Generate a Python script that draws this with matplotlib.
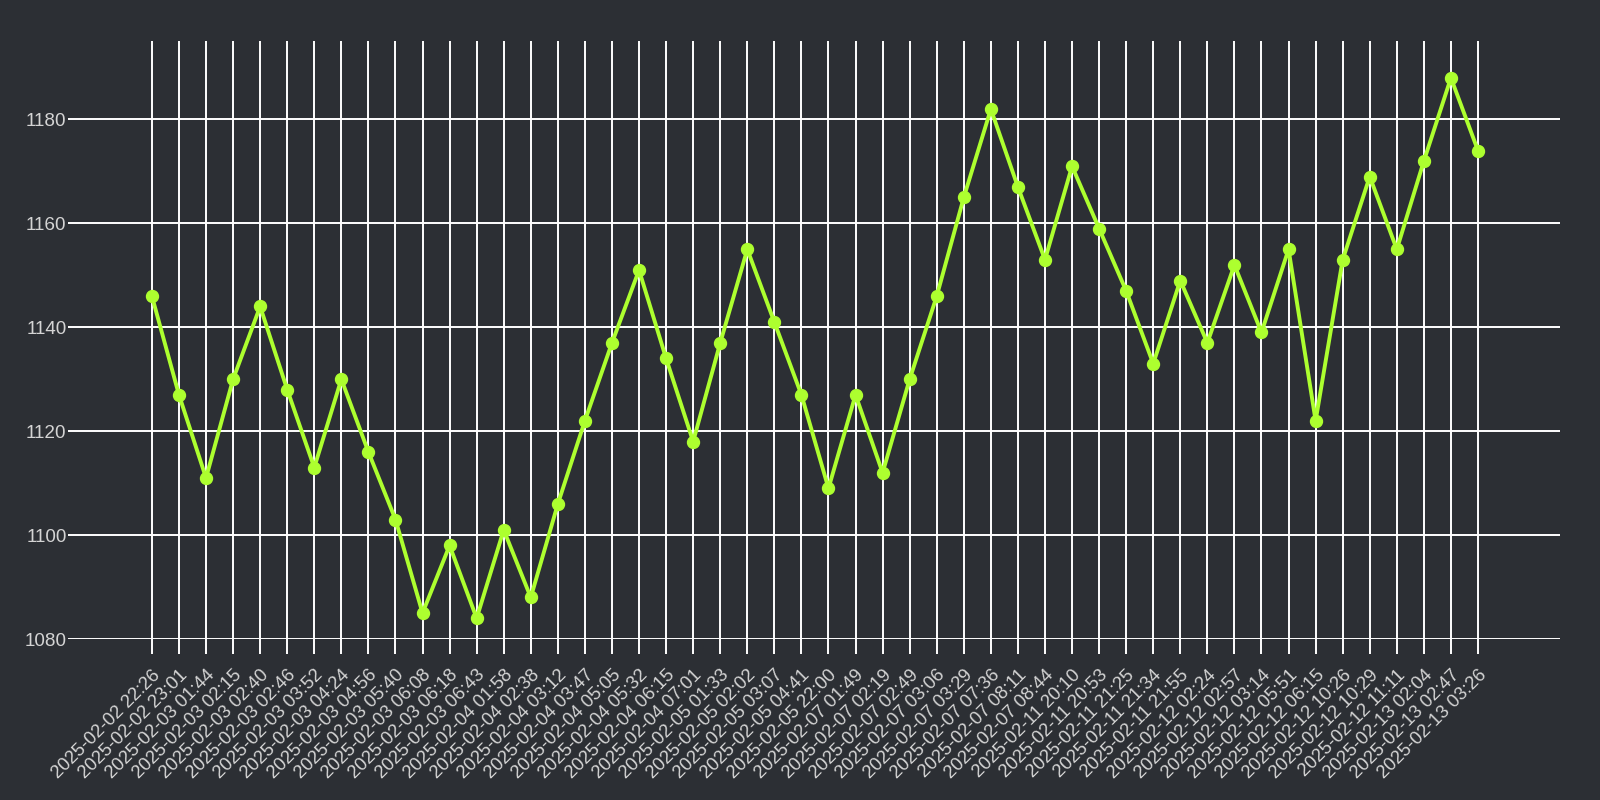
import matplotlib
matplotlib.use('Agg')
import matplotlib.pyplot as plt

# data
labels = [
    '2025-02-02 22:26', '2025-02-02 23:01', '2025-02-03 01:44', '2025-02-03 02:15',
    '2025-02-03 02:40', '2025-02-03 02:46', '2025-02-03 03:52', '2025-02-03 04:24',
    '2025-02-03 04:56', '2025-02-03 05:40', '2025-02-03 06:08', '2025-02-03 06:18',
    '2025-02-03 06:43', '2025-02-04 01:58', '2025-02-04 02:38', '2025-02-04 03:12',
    '2025-02-04 03:47', '2025-02-04 05:05', '2025-02-04 05:32', '2025-02-04 06:15',
    '2025-02-04 07:01', '2025-02-05 01:33', '2025-02-05 02:02', '2025-02-05 03:07',
    '2025-02-05 04:41', '2025-02-05 22:00', '2025-02-07 01:49', '2025-02-07 02:19',
    '2025-02-07 02:49', '2025-02-07 03:06', '2025-02-07 03:29', '2025-02-07 07:36',
    '2025-02-07 08:11', '2025-02-07 08:44', '2025-02-11 20:10', '2025-02-11 20:53',
    '2025-02-11 21:25', '2025-02-11 21:34', '2025-02-11 21:55', '2025-02-12 02:24',
    '2025-02-12 02:57', '2025-02-12 03:14', '2025-02-12 05:51', '2025-02-12 06:15',
    '2025-02-12 10:26', '2025-02-12 10:29', '2025-02-12 11:11', '2025-02-13 02:04',
    '2025-02-13 02:47', '2025-02-13 03:26',
]
values = [
    1146, 1127, 1111, 1130, 1144, 1128, 1113, 1130, 1116, 1103,
    1085, 1098, 1084, 1101, 1088, 1106, 1122, 1137, 1151, 1134,
    1118, 1137, 1155, 1141, 1127, 1109, 1127, 1112, 1130, 1146,
    1165, 1182, 1167, 1153, 1171, 1159, 1147, 1133, 1149, 1137,
    1152, 1139, 1155, 1122, 1153, 1169, 1155, 1172, 1188, 1174,
]
y_ticks = [1080, 1100, 1120, 1140, 1160, 1180]

bg = '#2c2f34'
line_color = '#adff2f'
text_color = '#d4d4d4'

plt.rcParams['font.family'] = ['Liberation Sans', 'DejaVu Sans']

fig = plt.figure(figsize=(16, 8), dpi=100, facecolor=bg)
ax = fig.add_axes([68 / 1600, 1 - 639 / 800, (1560 - 68) / 1600, (639 - 41) / 800])
ax.set_facecolor(bg)

x = list(range(len(values)))
ax.plot(x, values, color=line_color, linewidth=2.8, marker='o', markersize=8.6,
        zorder=3, clip_on=False)

ax.set_xlim(-3.1, len(values) - 1 + 3.03)
ax.set_ylim(1080, 1195.1)
ax.set_yticks(y_ticks)
ax.set_xticks(x)
ax.set_xticklabels(labels, rotation=45, ha='right', rotation_mode='anchor')

ax.grid(True, color='white', linewidth=1.4, zorder=1)
ax.set_axisbelow(True)
for s in ax.spines.values():
    s.set_visible(False)

ax.tick_params(axis='x', length=11, width=1.4, color='white', labelcolor=text_color,
               labelsize=13.3, pad=9)
ax.tick_params(axis='y', length=0, labelcolor=text_color, labelsize=13.6, pad=1)

fig.savefig('out.png', dpi=100, facecolor=bg)
